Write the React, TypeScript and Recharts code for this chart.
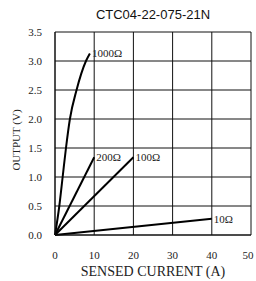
import React from 'react';
import { LineChart, Line, XAxis, YAxis, CartesianGrid } from 'recharts';

const title = 'CTC04-22-075-21N';
const xTicks = [0, 10, 20, 30, 40, 50];
const yTicks = [0, 0.5, 1, 1.5, 2, 2.5, 3, 3.5];

// each curve: current (A) vs output (V)
const r1000 = [
  { x: 0, y: 0 },
  { x: 1.1, y: 0.5 },
  { x: 1.95, y: 1.0 },
  { x: 2.8, y: 1.5 },
  { x: 3.8, y: 2.0 },
  { x: 5.5, y: 2.5 },
  { x: 7.9, y: 3.0 },
  { x: 8.9, y: 3.13 },
];
const r200 = [
  { x: 0, y: 0 },
  { x: 10, y: 1.34 },
];
const r100 = [
  { x: 0, y: 0 },
  { x: 20, y: 1.34 },
];
const r10 = [
  { x: 0, y: 0 },
  { x: 40, y: 0.28 },
];

const series = [
  { name: '1000Ω', data: r1000, curve: 'monotone' },
  { name: '200Ω', data: r200, curve: 'linear' },
  { name: '100Ω', data: r100, curve: 'linear' },
  { name: '10Ω', data: r10, curve: 'linear' },
];

const serif = '"Liberation Serif", "Times New Roman", serif';

const endLabel = (text: string, count: number) => (props: any) => {
  const { x, y, index } = props;
  if (index !== count - 1) return null;
  return (
    <text x={x + 2} y={y + 4} fontSize={11} fontFamily={serif} fill="#222">
      {text}
    </text>
  );
};

const XTick = (props: any) => {
  const { x, y, payload } = props;
  return (
    <text x={x} y={y + 12} textAnchor="middle" fontSize={11} fontFamily={serif} fill="#222">
      {payload.value}
    </text>
  );
};

const YTick = (props: any) => {
  const { x, y, payload } = props;
  return (
    <text x={x - 1} y={y + 4} textAnchor="end" fontSize={11} fontFamily={serif} fill="#222">
      {Number(payload.value).toFixed(1)}
    </text>
  );
};

const XTitle = (props: any) => {
  const { viewBox } = props;
  return (
    <text
      x={viewBox.x + viewBox.width / 2}
      y={276}
      textAnchor="middle"
      fontSize={14}
      fontFamily={serif}
      fill="#222"
    >
      SENSED CURRENT (A)
    </text>
  );
};

const YTitle = () => {
  const cx = 20;
  const cy = 140;
  return (
    <text
      x={cx}
      y={cy}
      transform={`rotate(-90 ${cx} ${cy})`}
      textAnchor="middle"
      fontSize={11}
      fontFamily={serif}
      fill="#222"
    >
      OUTPUT (V)
    </text>
  );
};

export default function App() {
  return (
    <div style={{ position: 'absolute', left: 0, top: 0, width: 256, height: 281, background: '#fff' }}>
      <div
        style={{
          position: 'absolute',
          left: 55,
          width: 196,
          top: 7,
          textAlign: 'center',
          fontFamily: '"Liberation Sans", Arial, sans-serif',
          fontSize: 13,
          color: '#111',
        }}
      >
        {title}
      </div>
      <LineChart
        width={256}
        height={281}
        data={r1000}
        margin={{ top: 32, right: 5, left: 0, bottom: 0 }}
      >
        <CartesianGrid stroke="#111" strokeWidth={1} />
        <XAxis
          type="number"
          dataKey="x"
          domain={[0, 50]}
          ticks={xTicks}
          height={46}
          axisLine={{ stroke: '#111' }}
          tickLine={false}
          tick={<XTick />}
          tickMargin={6}
          label={<XTitle />}
        />
        <YAxis
          type="number"
          domain={[0, 3.5]}
          ticks={yTicks}
          width={55}
          axisLine={{ stroke: '#111' }}
          tickLine={false}
          tick={<YTick />}
          tickMargin={6}
          label={<YTitle />}
        />
        {series.map(s => (
          <Line
            key={s.name}
            data={s.data}
            dataKey="y"
            type={s.curve as any}
            stroke="#000"
            strokeWidth={2}
            dot={false}
            isAnimationActive={false}
            label={endLabel(s.name, s.data.length)}
          />
        ))}
      </LineChart>
    </div>
  );
}
